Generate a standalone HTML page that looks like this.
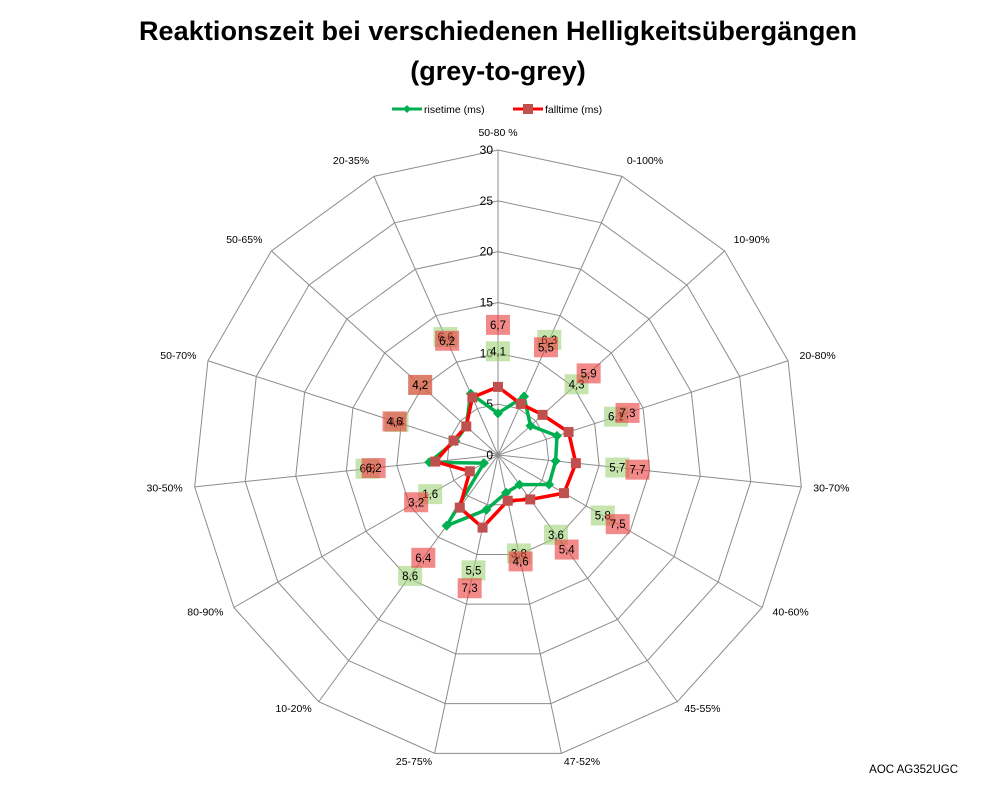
<!DOCTYPE html>
<html><head><meta charset="utf-8"><style>
body{margin:0;background:#fff;}
svg{display:block;font-family:"Liberation Sans",sans-serif;}
</style></head><body>
<svg width="998" height="786" viewBox="0 0 998 786" xmlns="http://www.w3.org/2000/svg">
<text x="498" y="40" text-anchor="middle" font-size="27" font-weight="bold" textLength="718">Reaktionszeit bei verschiedenen Helligkeitsübergängen</text>
<text x="498" y="80" text-anchor="middle" font-size="27" font-weight="bold">(grey-to-grey)</text>
<g>
<line x1="392" y1="109" x2="422" y2="109" stroke="#00b050" stroke-width="3"/>
<path d="M407 105 L411 109 L407 113 L403 109Z" fill="#00b050"/>
<text x="424" y="113" font-size="10.5">risetime (ms)</text>
<line x1="513" y1="109" x2="543" y2="109" stroke="#ff0000" stroke-width="3"/>
<rect x="523" y="104" width="10" height="10" fill="#c0504d"/>
<text x="545" y="113" font-size="10.5">falltime (ms)</text>
</g>
<g id="grid"></g>
<g id="series"></g>
<g id="labels"></g>
<text x="958" y="773" text-anchor="end" font-size="11.5">AOC AG352UGC</text>
</svg>
<script>
const categories=["50-80 %","0-100%","10-90%","20-80%","30-70%","40-60%","45-55%","47-52%","25-75%","10-20%","80-90%","30-50%","50-70%","50-65%","20-35%"];
const riseValues=[4.1,6.3,4.3,6.1,5.7,5.8,3.6,3.8,5.5,8.6,1.6,6.8,4.4,4.2,6.6];
const fallValues=[6.7,5.5,5.9,7.3,7.7,7.5,5.4,4.6,7.3,6.4,3.2,6.2,4.6,4.2,6.2];
const ticks=[0,5,10,15,20,25,30];
const NS="http://www.w3.org/2000/svg";
const cx=498,cy=455,R=305,maxV=30;
const N=categories.length;
function ang(i){return -Math.PI/2+i*2*Math.PI/N;}
function pt(i,v){const r=v/maxV*R,a=ang(i);return [cx+r*Math.cos(a),cy+r*Math.sin(a)];}
function mk(tag,attrs,parent){const e=document.createElementNS(NS,tag);for(const k in attrs)e.setAttribute(k,attrs[k]);parent.appendChild(e);return e;}
const grid=document.getElementById('grid');
ticks.forEach(t=>{if(t===0)return;
 const p=categories.map((c,i)=>pt(i,t).join(',')).join(' ');
 const g=mk('polygon',{points:p,fill:'none',stroke:'#8c8c8c','stroke-width':1},grid);
 
 
});
categories.forEach((c,i)=>{
 const [x,y]=pt(i,maxV);
 const l=mk('line',{x1:cx,y1:cy,x2:x,y2:y,stroke:'#8c8c8c','stroke-width':1},grid);
 
 
 const a=ang(i);const lr=R+12;
 const sn=Math.sin(a),cs=Math.cos(a);
 const lx=cx+lr*cs;
 const ly=cy+lr*sn+4+(sn>0?-4*sn:6*sn);
 const anchor=Math.abs(cs)<0.15?'middle':(cs>0?'start':'end');
 const tx=mk('text',{x:lx,y:ly,'text-anchor':anchor,'font-size':'10.5'},grid);
 tx.textContent=c;
 
 
});
ticks.forEach(t=>{
 const [x,y]=pt(0,t);
 const tx=mk('text',{x:x-5,y:y+4,'text-anchor':'end','font-size':'12'},grid);
 tx.textContent=t;
 
 
});
const ser=document.getElementById('series');
const lab=document.getElementById('labels');
function drawSeries(vals,color,mcolor,shape,name,lcolor){
 const pts=vals.map((v,i)=>pt(i,v));
 const pg=mk('polygon',{points:pts.map(p=>p.join(',')).join(' '),fill:'none',stroke:color,'stroke-width':3.5,'stroke-linejoin':'round'},ser);
 
 
 pts.forEach((p,i)=>{
  let m;
  if(shape==='sq'){m=mk('rect',{x:p[0]-5,y:p[1]-5,width:10,height:10,fill:mcolor},ser);}
  else{m=mk('path',{d:`M${p[0]} ${p[1]-5}L${p[0]+5} ${p[1]}L${p[0]} ${p[1]+5}L${p[0]-5} ${p[1]}Z`,fill:mcolor},ser);}
  
  
  const a=ang(i);const r=vals[i]/maxV*R+62;
  const lx=cx+r*Math.cos(a),ly=cy+r*Math.sin(a);
  const b=mk('rect',{x:lx-12,y:ly-10,width:24,height:20,fill:lcolor},lab);
  
  
  const t=mk('text',{x:lx,y:ly+4,'text-anchor':'middle','font-size':'11.5'},lab);
  t.textContent=String(vals[i]).replace('.',',');
  
  
 });
}
drawSeries(riseValues,'#00b050','#00b050','dia','risetime','rgba(160,210,120,0.6)');
drawSeries(fallValues,'#ff0000','#c0504d','sq','falltime','rgba(235,60,60,0.6)');
</script>
</body></html>
